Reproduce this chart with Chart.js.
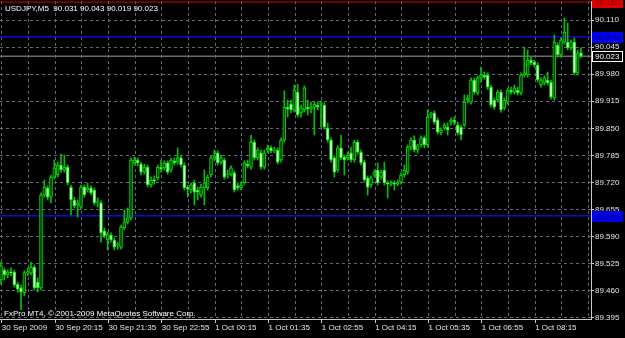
<!DOCTYPE html>
<html>
<head>
<meta charset="utf-8">
<script src="https://cdn.jsdelivr.net/npm/chart.js@4.4.1/dist/chart.umd.min.js"></script>
<style>
html,body{margin:0;padding:0;background:#000;}
#wrap{width:625px;height:338px;position:relative;}
</style>
</head>
<body>
<div id="wrap"><canvas id="c" width="625" height="338"></canvas></div>
<script>
// ---- Data (USDJPY, M5) ----
const opens = [
89.486,89.510,89.498,89.505,89.505,89.476,89.467,89.455,89.503,89.503,
89.517,89.481,89.467,89.690,89.707,89.685,89.733,89.738,89.762,89.750,
89.757,89.709,89.678,89.666,89.661,89.709,89.702,89.707,89.702,89.671,
89.671,89.604,89.582,89.594,89.582,89.570,89.565,89.611,89.625,89.635,
89.767,89.774,89.764,89.745,89.757,89.714,89.726,89.731,89.757,89.755,
89.767,89.750,89.772,89.769,89.779,89.762,89.709,89.702,89.719,89.702,
89.690,89.707,89.707,89.738,89.779,89.791,89.769,89.774,89.738,89.740,
89.743,89.712,89.707,89.719,89.764,89.757,89.817,89.779,89.791,89.757,
89.798,89.803,89.796,89.798,89.774,89.822,89.901,89.908,89.894,89.937,
89.887,89.894,89.901,89.896,89.901,89.906,89.908,89.906,89.851,89.822,
89.779,89.750,89.803,89.781,89.779,89.791,89.774,89.817,89.793,89.769,
89.731,89.714,89.738,89.750,89.733,89.750,89.719,89.716,89.719,89.716,
89.721,89.738,89.745,89.805,89.822,89.798,89.810,89.827,89.810,89.882,
89.887,89.870,89.839,89.851,89.853,89.865,89.870,89.858,89.853,89.858,
89.918,89.913,89.966,89.935,89.971,89.978,89.978,89.949,89.918,89.918,
89.937,89.899,89.913,89.942,89.937,89.942,89.935,89.978,89.978,90.014,
90.009,90.002,89.954,89.959,89.966,89.961,89.923,90.050,90.026,90.057,
90.057,90.043,90.057,89.983,90.031
];
const highs = [
89.529,89.515,89.510,89.515,89.510,89.481,89.474,89.508,89.515,89.529,
89.522,89.491,89.695,89.726,89.712,89.738,89.774,89.769,89.788,89.786,
89.762,89.714,89.685,89.678,89.714,89.714,89.719,89.712,89.707,89.683,
89.676,89.611,89.601,89.599,89.587,89.577,89.618,89.654,89.659,89.779,
89.781,89.779,89.769,89.764,89.762,89.733,89.736,89.762,89.774,89.772,
89.772,89.779,89.779,89.803,89.784,89.767,89.714,89.719,89.726,89.709,
89.716,89.750,89.738,89.784,89.798,89.796,89.786,89.779,89.750,89.760,
89.748,89.719,89.721,89.772,89.774,89.834,89.822,89.803,89.798,89.798,
89.810,89.808,89.805,89.803,89.827,89.940,89.918,89.918,89.954,89.956,
89.906,89.952,89.918,89.913,89.913,89.913,89.916,89.911,89.863,89.827,
89.784,89.808,89.834,89.786,89.793,89.805,89.822,89.822,89.798,89.774,
89.736,89.736,89.750,89.767,89.750,89.769,89.724,89.724,89.724,89.726,
89.743,89.762,89.810,89.827,89.832,89.812,89.832,89.832,89.894,89.889,
89.892,89.875,89.851,89.863,89.863,89.875,89.877,89.865,89.858,89.930,
89.930,89.971,89.971,89.976,89.997,89.985,89.983,89.954,89.923,89.942,
89.942,89.923,89.947,89.949,89.954,89.949,89.983,90.045,90.038,90.021,
90.014,90.007,89.971,89.976,89.985,89.966,90.074,90.055,90.067,90.115,
90.103,90.062,90.067,90.038,90.043
];
const lows = [
89.476,89.486,89.491,89.496,89.469,89.457,89.414,89.448,89.496,89.498,
89.462,89.457,89.462,89.685,89.678,89.671,89.728,89.733,89.745,89.745,
89.714,89.642,89.659,89.637,89.656,89.685,89.697,89.690,89.666,89.661,
89.577,89.587,89.558,89.577,89.558,89.560,89.560,89.606,89.620,89.630,
89.762,89.760,89.738,89.740,89.709,89.709,89.716,89.726,89.745,89.750,
89.740,89.745,89.762,89.764,89.757,89.702,89.685,89.695,89.666,89.678,
89.685,89.666,89.702,89.733,89.772,89.762,89.764,89.728,89.731,89.736,
89.697,89.702,89.702,89.714,89.755,89.752,89.774,89.774,89.752,89.752,
89.791,89.791,89.791,89.764,89.769,89.817,89.877,89.887,89.889,89.877,
89.877,89.889,89.882,89.887,89.834,89.894,89.853,89.848,89.817,89.769,
89.733,89.745,89.774,89.738,89.774,89.769,89.769,89.788,89.762,89.721,
89.690,89.709,89.733,89.714,89.728,89.714,89.683,89.712,89.702,89.712,
89.716,89.733,89.740,89.798,89.793,89.791,89.805,89.803,89.805,89.875,
89.860,89.836,89.834,89.846,89.834,89.858,89.858,89.834,89.822,89.853,
89.911,89.908,89.932,89.930,89.961,89.968,89.944,89.901,89.896,89.913,
89.889,89.894,89.908,89.932,89.932,89.930,89.930,89.973,89.973,90.002,
89.997,89.961,89.949,89.954,89.954,89.920,89.918,90.021,90.021,90.052,
90.038,90.038,89.978,89.978,90.019
];
const closes = [
89.520,89.498,89.505,89.503,89.474,89.464,89.457,89.503,89.505,89.517,
89.467,89.467,89.690,89.709,89.685,89.733,89.755,89.762,89.750,89.757,
89.719,89.678,89.664,89.671,89.709,89.690,89.707,89.695,89.671,89.673,
89.599,89.592,89.596,89.582,89.565,89.572,89.613,89.625,89.635,89.774,
89.774,89.767,89.745,89.757,89.714,89.726,89.724,89.757,89.752,89.767,
89.745,89.774,89.767,89.779,89.762,89.707,89.704,89.714,89.697,89.697,
89.709,89.719,89.733,89.779,89.784,89.767,89.779,89.733,89.740,89.755,
89.702,89.707,89.714,89.767,89.760,89.817,89.779,89.798,89.757,89.791,
89.803,89.796,89.798,89.769,89.822,89.901,89.896,89.894,89.942,89.882,
89.899,89.947,89.896,89.901,89.908,89.901,89.911,89.853,89.822,89.774,
89.745,89.803,89.779,89.774,89.786,89.774,89.817,89.793,89.767,89.726,
89.709,89.731,89.745,89.719,89.745,89.719,89.716,89.719,89.716,89.719,
89.738,89.750,89.805,89.822,89.798,89.808,89.827,89.810,89.877,89.884,
89.865,89.841,89.846,89.858,89.846,89.870,89.865,89.839,89.834,89.913,
89.923,89.966,89.937,89.971,89.978,89.973,89.949,89.906,89.901,89.937,
89.894,89.918,89.942,89.937,89.947,89.935,89.978,89.983,90.014,90.007,
90.002,89.966,89.966,89.971,89.959,89.925,90.057,90.026,90.062,90.081,
90.043,90.057,89.983,90.031,90.023
];
// time-axis labels (one every 16 bars = 80 minutes)
const timeLabels = ["30 Sep 2009","30 Sep 20:15","30 Sep 21:35","30 Sep 22:55","1 Oct 00:15","1 Oct 01:35","1 Oct 02:55","1 Oct 04:15","1 Oct 05:35","1 Oct 06:55","1 Oct 08:15"];
// price-axis tick labels
const priceTicks = [89.395,89.460,89.525,89.590,89.655,89.720,89.785,89.850,89.915,89.980,90.045,90.110];
// horizontal levels
const blueLevels = [90.070, 89.640];
const bidLevel = 90.023;
const redLevel = 90.153;
const symbolTitle = "USDJPY,M5";
const lastOHLC = [90.031, 90.043, 90.019, 90.023];

// ---- build datasets ----
const idx = opens.map((_, i) => i);
const wickData = idx.map(i => ({x: i, y: [lows[i], highs[i]]}));
const bodyData = idx.map(i => ({x: i, y: [opens[i], closes[i]]}));
const X_MIN = -0.3, X_MAX = 177.0;
const Y_MIN = 89.3924, Y_MAX = 90.1556;
const gridIdx = [];
for (let k = 0; k * 8 < X_MAX; k++) gridIdx.push(k * 8 + 0.25);
function labelFor(v) {
  const k = Math.round((v - 0.25) / 8);
  if (k % 2 !== 0) return '';
  return timeLabels[k / 2] || '';
}
function levelLine(v, color, w) {
  return {type: 'line', data: [{x: X_MIN, y: v}, {x: X_MAX, y: v}], borderColor: color,
    borderWidth: w, pointRadius: 0, order: 5, parsing: true};
}

const FONT = '"Liberation Sans", Arial, sans-serif';

const textPlugin = {
  id: 'mt4text',
  afterDraw(chart) {
    const ctx = chart.ctx;
    const y = chart.scales.y;
    const right = chart.chartArea.right;
    ctx.save();
    ctx.font = '8px ' + FONT;
    ctx.textBaseline = 'middle';
    ctx.fillStyle = '#ffffff';
    ctx.textAlign = 'left';
    ctx.fillText(symbolTitle + '  ' + lastOHLC.map(v => v.toFixed(3)).join(' '), 5, 9);
    ctx.fillText('FxPro MT4, \u00a9 2001-2009 MetaQuotes Software Corp.', 4, 314);
    // level labels on price axis
    function box(v, fill, stroke, txt) {
      const py = Math.round(y.getPixelForValue(v));
      ctx.fillStyle = fill;
      ctx.fillRect(right + 1, py - 5, 31, 11);
      if (stroke) { ctx.strokeStyle = stroke; ctx.lineWidth = 1; ctx.strokeRect(right + 1.5, py - 4.5, 30, 10); }
      ctx.fillStyle = txt;
      ctx.fillText(v.toFixed(3), right + 4, py + 0.5);
    }
    blueLevels.forEach(v => box(v, '#0000f0', null, '#00006a'));
    box(bidLevel, '#000000', '#ffffff', '#ffffff');
    box(redLevel, '#e00000', null, '#800000');
    ctx.restore();
  }
};

new Chart(document.getElementById('c'), {
  data: {
    datasets: [
      {type: 'bar', data: wickData, backgroundColor: '#00c400', borderWidth: 0,
       barThickness: 1, grouped: false, order: 3},
      {type: 'bar', data: bodyData, grouped: false, order: 2,
       backgroundColor: ctx => (closes[ctx.dataIndex] >= opens[ctx.dataIndex] ? '#0a3a0a' : '#d8ffd8'),
       borderColor: '#00e000', borderWidth: 1, borderSkipped: false, barThickness: 3, minBarLength: 1},
      levelLine(blueLevels[0], '#0a0ad8', 1.5),
      levelLine(blueLevels[1], '#0a0ad8', 1.5),
      levelLine(bidLevel, '#6a6a6a', 1.5),
      levelLine(redLevel, '#e00000', 1)
    ]
  },
  options: {
    responsive: false,
    animation: false,
    events: [],
    layout: {padding: {top: 1, left: 0, right: 0, bottom: 0}},
    plugins: {legend: {display: false}, tooltip: {enabled: false}, title: {display: false}},
    scales: {
      x: {
        type: 'linear', position: 'bottom', min: X_MIN, max: X_MAX, offset: false,
        afterBuildTicks: s => { s.ticks = gridIdx.map(v => ({value: v})); },
        afterFit: s => { s.height = 19; s.paddingLeft = 0; s.paddingRight = 0; },
        grid: {color: '#5f6b7a', lineWidth: 1, offset: false, drawTicks: true, tickLength: 4,
               tickColor: c => (c.tick && labelFor(c.tick.value) ? '#c8c8c8' : 'rgba(0,0,0,0)')},
        border: {display: true, color: '#c8c8c8', width: 1, dash: [3, 3]},
        ticks: {callback: v => labelFor(v), autoSkip: false, maxRotation: 0, minRotation: 0,
                align: 'start', padding: 0, color: '#e6e6e6', font: {family: FONT, size: 8}}
      },
      y: {
        type: 'linear', position: 'right', min: Y_MIN, max: Y_MAX,
        afterBuildTicks: s => { s.ticks = priceTicks.map(v => ({value: v})); },
        afterFit: s => { s.width = 34; s.paddingTop = 0; s.paddingBottom = 0; },
        grid: {color: '#5f6b7a', lineWidth: 1, drawTicks: true, tickLength: 3, tickColor: '#c8c8c8'},
        border: {display: true, color: '#c8c8c8', width: 1, dash: [3, 3]},
        ticks: {callback: v => v.toFixed(3), padding: 1, color: '#e6e6e6', font: {family: FONT, size: 8}}
      }
    }
  },
  plugins: [textPlugin]
});
</script>
</body>
</html>
